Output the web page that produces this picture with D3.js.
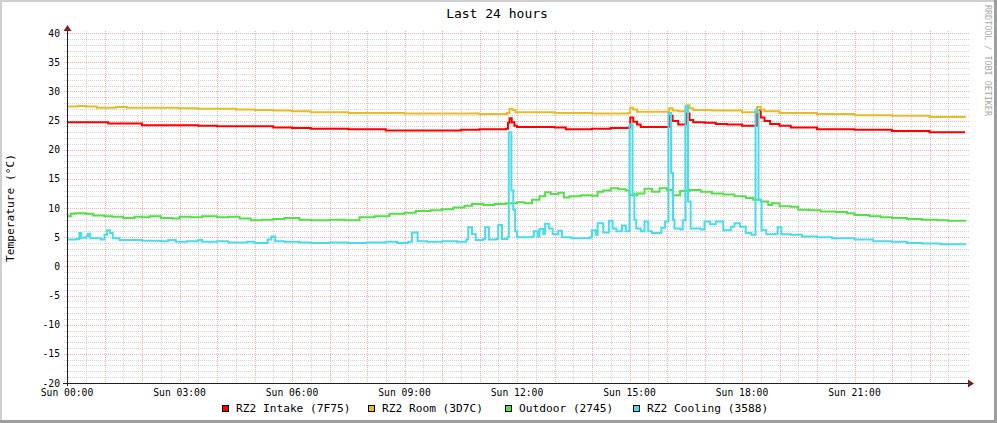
<!DOCTYPE html>
<html><head><meta charset="utf-8">
<script src="https://cdn.jsdelivr.net/npm/d3@7"></script>
<style>html,body{margin:0;padding:0;background:#fff;}svg{display:block;}</style>
</head><body>
<script>
// ---- data (hours since Sun 00:00, °C) ----
const title = "Last 24 hours";
const yTitle = "Temperature (°C)";
const watermark = "RRDTOOL / TOBI OETIKER";
const xTickHours = [0, 3, 6, 9, 12, 15, 18, 21];
const xTickLabels = ["Sun 00:00", "Sun 03:00", "Sun 06:00", "Sun 09:00", "Sun 12:00", "Sun 15:00", "Sun 18:00", "Sun 21:00"];
const yTicks = [-20, -15, -10, -5, 0, 5, 10, 15, 20, 25, 30, 35, 40];
const seriesNames = ["RZ2 Intake (7F75)", "RZ2 Room (3D7C)", "Outdoor (2745)", "RZ2 Cooling (3588)"];
const seriesColors = ["#FF0000", "#EABC24", "#54E048", "#48DCEC"];

const intake = [[0,24.7],[1.05,24.7],[1.1,24.5],[1.5,24.5],[2.0,24.2],[3.0,24.2],[3.5,24.1],[4.0,24.0],[5.0,24.0],[5.5,23.8],[6.0,23.7],[6.5,23.6],[7.0,23.6],[7.5,23.5],[8.0,23.5],[8.5,23.3],[9.0,23.3],[10.0,23.3],[10.5,23.4],[11.0,23.5],[11.7,23.6],[11.76,24.6],[11.8,25.4],[11.86,24.7],[11.93,24.1],[12.0,23.9],[13.0,23.8],[13.3,23.5],[14.0,23.6],[14.5,23.7],[14.97,23.8],[15.02,25.5],[15.1,24.8],[15.2,24.3],[15.3,23.9],[16.03,23.9],[16.06,25.8],[16.15,24.9],[16.3,24.3],[16.48,24.4],[16.52,26.2],[16.6,25.1],[16.7,24.7],[17.0,24.6],[17.3,24.4],[17.6,24.3],[18.0,24.1],[18.36,24.1],[18.4,26.8],[18.5,25.5],[18.6,24.9],[18.75,24.4],[19.0,24.1],[19.3,23.8],[20.0,23.5],[21.0,23.4],[22.0,23.2],[23.0,23.0],[23.95,23.0]];

const room = [[0,27.4],[0.3,27.5],[0.5,27.4],[0.8,27.2],[1.3,27.3],[1.6,27.2],[2.5,27.2],[3.0,27.1],[3.5,27.0],[4.0,27.0],[4.5,26.9],[5.0,26.8],[5.5,26.7],[6.0,26.6],[6.5,26.4],[7.0,26.4],[7.5,26.3],[8.0,26.3],[9.0,26.2],[10.0,26.2],[11.0,26.1],[11.74,26.3],[11.8,27.0],[11.88,26.8],[11.96,26.4],[13.0,26.3],[14.0,26.2],[14.97,26.3],[15.02,27.2],[15.1,26.9],[15.2,26.5],[16.03,26.5],[16.06,27.1],[16.15,26.7],[16.3,26.6],[16.48,26.8],[16.52,27.6],[16.6,27.1],[16.7,26.8],[17.2,26.7],[18.0,26.4],[18.36,26.4],[18.4,27.3],[18.5,26.9],[18.6,26.6],[19.0,26.3],[20.0,26.1],[21.0,25.9],[22.0,25.8],[23.0,25.6],[23.95,25.5]];

const outdoor = [[0,8.6],[0.1,9.0],[0.2,9.1],[0.5,9.0],[0.7,8.7],[1.0,8.6],[1.2,8.5],[1.5,8.3],[1.8,8.5],[2.0,8.4],[2.2,8.6],[2.5,8.3],[2.8,8.2],[3.0,8.5],[3.3,8.4],[3.6,8.6],[4.0,8.4],[4.3,8.5],[4.6,8.2],[4.9,7.9],[5.2,8.0],[5.5,8.1],[5.8,8.3],[6.2,8.0],[6.5,7.9],[7.0,8.0],[7.4,7.9],[7.8,8.4],[8.2,8.6],[8.6,9.0],[9.0,9.2],[9.3,9.5],[9.7,9.6],[10.0,9.8],[10.3,10.1],[10.6,10.4],[10.8,10.7],[11.1,10.5],[11.4,10.7],[11.7,10.8],[12.0,11.0],[12.2,10.8],[12.4,11.4],[12.6,12.0],[12.75,12.7],[12.9,12.4],[13.1,12.6],[13.25,11.8],[13.4,12.0],[13.7,12.2],[14.0,12.1],[14.15,12.8],[14.3,13.0],[14.5,13.4],[14.7,13.2],[14.9,13.0],[15.0,12.2],[15.2,12.5],[15.4,13.3],[15.6,12.8],[15.8,13.4],[16.0,13.1],[16.15,12.2],[16.35,12.9],[16.6,13.1],[16.9,12.8],[17.2,12.5],[17.5,12.3],[17.8,12.0],[18.1,11.7],[18.3,11.4],[18.5,11.1],[18.7,10.5],[18.8,10.8],[19.0,10.3],[19.3,10.2],[19.5,9.7],[19.8,9.6],[20.1,9.4],[20.5,9.3],[20.8,9.1],[21.0,8.8],[21.4,8.6],[21.7,8.4],[22.0,8.3],[22.4,8.1],[22.8,8.0],[23.2,7.9],[23.5,7.8],[23.95,7.7]];

const cooling = [[0,4.6],[0.25,4.7],[0.33,5.7],[0.38,4.9],[0.52,5.2],[0.56,5.6],[0.62,4.8],[0.9,4.6],[1.0,5.4],[1.07,6.2],[1.15,5.7],[1.22,4.8],[1.4,4.5],[2.0,4.4],[2.5,4.3],[2.7,4.5],[2.9,4.2],[3.2,4.3],[3.5,4.5],[3.6,4.2],[4.0,4.3],[4.3,4.1],[4.8,4.2],[5.0,4.0],[5.35,4.6],[5.45,5.1],[5.55,4.3],[5.8,4.2],[6.2,4.1],[6.5,4.0],[7.0,4.1],[7.5,4.0],[8.0,4.1],[8.5,4.2],[8.8,4.0],[9.1,4.2],[9.2,5.8],[9.35,4.3],[9.6,4.2],[10.0,4.3],[10.4,4.2],[10.65,4.6],[10.7,6.7],[10.8,5.5],[10.9,4.5],[11.1,4.7],[11.15,6.7],[11.25,4.6],[11.45,4.7],[11.5,7.1],[11.6,4.7],[11.74,5.0],[11.78,23.0],[11.85,13.0],[11.9,9.7],[11.95,6.0],[12.0,5.0],[12.4,5.1],[12.45,6.0],[12.55,5.1],[12.6,6.4],[12.7,5.6],[12.75,7.3],[12.85,6.5],[12.95,5.5],[13.1,6.1],[13.2,5.0],[13.45,4.8],[13.95,5.0],[14.0,6.2],[14.1,5.4],[14.15,7.4],[14.3,5.8],[14.45,7.8],[14.55,6.5],[14.65,6.0],[14.8,7.0],[14.9,6.0],[15.0,24.3],[15.08,12.5],[15.13,8.0],[15.18,6.5],[15.3,6.0],[15.4,7.7],[15.5,6.0],[15.6,5.7],[15.85,6.6],[15.95,7.7],[16.04,26.3],[16.11,16.0],[16.16,8.0],[16.2,6.5],[16.35,6.3],[16.42,7.9],[16.49,27.4],[16.56,11.1],[16.63,6.5],[16.9,6.3],[17.0,7.7],[17.15,7.2],[17.3,7.7],[17.5,6.2],[17.7,6.8],[17.8,7.4],[17.95,6.8],[18.1,5.7],[18.25,5.4],[18.36,26.8],[18.44,11.4],[18.52,6.2],[18.65,5.5],[18.9,5.6],[18.95,6.7],[19.05,5.5],[19.3,5.4],[19.6,5.1],[20.0,5.0],[20.4,4.8],[21.0,4.6],[21.5,4.3],[22.0,4.2],[22.4,4.0],[22.8,3.9],[23.3,3.8],[23.95,3.6]];

const allSeries = [intake, room, outdoor, cooling];

// ---- drawing ----
const W = 997, H = 423;
const FONT = "'DejaVu Sans Mono', monospace";
const svg = d3.select("body").append("svg").attr("width", W).attr("height", H);

// canvas + shade frame
svg.append("rect").attr("x",0).attr("y",0).attr("width",W).attr("height",H).attr("fill","#fff");
svg.append("rect").attr("x",0).attr("y",0).attr("width",W).attr("height",2).attr("fill","#CFCFCF");
svg.append("rect").attr("x",0).attr("y",0).attr("width",2).attr("height",H).attr("fill","#CFCFCF");
svg.append("rect").attr("x",0).attr("y",H-3).attr("width",W).attr("height",3).attr("fill","#9E9E9E");
svg.append("rect").attr("x",W-3).attr("y",0).attr("width",3).attr("height",H).attr("fill","#9E9E9E");

const x = d3.scaleLinear().domain([0, 24]).range([67, 967]);
const y = d3.scaleLinear().domain([-20, 40]).range([383, 33]);

const grid = svg.append("g").attr("shape-rendering","crispEdges");
const minorOp = 0.38, majorOp = 0.45;
// minor horizontal
d3.range(-20, 41, 1).filter(v => v % 5 !== 0).forEach(v => {
  grid.append("line").attr("x1", 64).attr("x2", 969).attr("y1", Math.round(y(v))+0.5).attr("y2", Math.round(y(v))+0.5)
    .attr("stroke","#8F8F8F").attr("stroke-opacity",minorOp).attr("stroke-dasharray","1,1");
});
// minor vertical (half hours)
d3.range(0.5, 24, 1).forEach(h => {
  grid.append("line").attr("y1", 31).attr("y2", 385).attr("x1", Math.round(x(h))+0.5).attr("x2", Math.round(x(h))+0.5)
    .attr("stroke","#8F8F8F").attr("stroke-opacity",minorOp).attr("stroke-dasharray","1,1");
});
// major horizontal
yTicks.forEach(v => {
  grid.append("line").attr("x1", 64).attr("x2", 969).attr("y1", Math.round(y(v))+0.5).attr("y2", Math.round(y(v))+0.5)
    .attr("stroke","#DE5050").attr("stroke-opacity",majorOp).attr("stroke-dasharray","1,1");
});
// major vertical (hours)
d3.range(1, 24, 1).forEach(h => {
  grid.append("line").attr("y1", 31).attr("y2", 385).attr("x1", Math.round(x(h))+0.5).attr("x2", Math.round(x(h))+0.5)
    .attr("stroke","#DE5050").attr("stroke-opacity",majorOp).attr("stroke-dasharray","1,1");
});

// series lines
const line = d3.line().x(d => x(d[0])).y(d => y(d[1])).curve(d3.curveStepAfter);
allSeries.forEach((s, i) => {
  svg.append("path").datum(s).attr("d", line).attr("fill","none")
    .attr("stroke", seriesColors[i]).attr("stroke-width", 2).attr("stroke-linejoin","miter");
});

// axes
const ax = svg.append("g").attr("shape-rendering","crispEdges");
ax.append("line").attr("x1", 63).attr("x2", 969).attr("y1", 383.5).attr("y2", 383.5).attr("stroke","#1F1F1F");
ax.append("line").attr("x1", 67.5).attr("x2", 67.5).attr("y1", 386).attr("y2", 30).attr("stroke","#1F1F1F");
svg.append("path").attr("d","M968,379.5 L974,383.5 L968,387.5 Z").attr("fill","#801F1F");
svg.append("path").attr("d","M63.5,31 L67.5,25 L71.5,31 Z").attr("fill","#801F1F");

// y tick labels
svg.append("g").selectAll("text").data(yTicks).join("text")
  .attr("x", 60).attr("y", d => y(d) + 3.5).attr("text-anchor","end")
  .attr("font-family", FONT).attr("font-size", 9.7).attr("fill","#000").text(d => d);

// x tick labels
svg.append("g").selectAll("text").data(xTickHours).join("text")
  .attr("x", d => x(d)).attr("y", 396).attr("text-anchor","middle")
  .attr("font-family", FONT).attr("font-size", 9.7).attr("fill","#000").text((d, i) => xTickLabels[i]);

// title
svg.append("text").attr("x", 497).attr("y", 18).attr("text-anchor","middle")
  .attr("font-family", FONT).attr("font-size", 13).attr("fill","#000").text(title);

// y axis title
svg.append("text").attr("transform","translate(14,208) rotate(-90)").attr("text-anchor","middle")
  .attr("font-family", FONT).attr("font-size", 11.2).attr("fill","#000").text(yTitle);

// watermark
svg.append("text").attr("transform","translate(985,5) rotate(90)").attr("text-anchor","start")
  .attr("font-family", FONT).attr("font-size", 8.4).attr("fill","#AAAAAA").text(watermark);

// legend
const legX = [222, 368, 505, 633];
const lg = svg.append("g");
seriesNames.forEach((n, i) => {
  lg.append("rect").attr("x", legX[i] + 0.5).attr("y", 405.5).attr("width", 6).attr("height", 6)
    .attr("fill", seriesColors[i]).attr("stroke","#000").attr("stroke-width",1).attr("shape-rendering","crispEdges");
  lg.append("text").attr("x", legX[i] + 14).attr("y", 412).attr("font-family", FONT).attr("font-size", 11.2)
    .attr("fill","#000").text(n);
});
</script>
</body></html>
